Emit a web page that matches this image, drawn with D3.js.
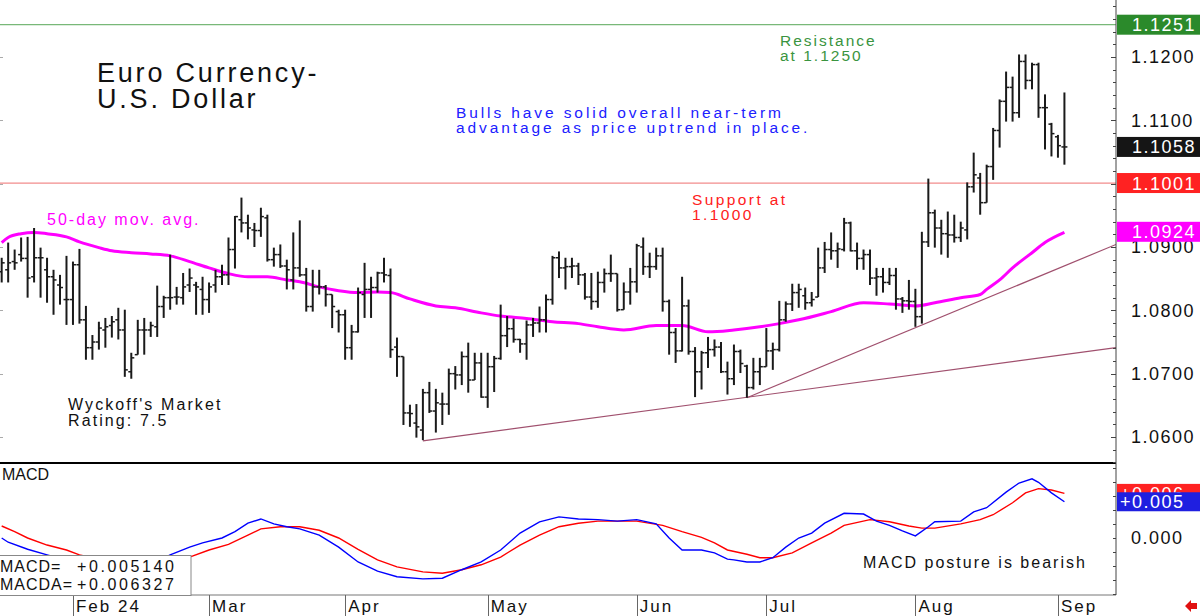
<!DOCTYPE html>
<html>
<head>
<meta charset="utf-8">
<script src="https://d3js.org/d3.v7.min.js"></script>
<style>
body { margin: 0; background: #fff; }
text { font-family: "Liberation Sans", Arial, sans-serif; }
</style>
</head>
<body>
<div id="chart"></div>
<script>
// daily bars, Jan 17 to Sep 3 (weekdays), index = bar number
const opens = [1.0861,1.0864,1.0877,1.0888,1.0882,1.0853,1.0883,1.0864,1.0853,1.0840,1.0817,1.0817,1.0872,1.0785,1.0741,1.0750,1.0769,1.0776,1.0785,1.0769,
1.0703,1.0730,1.0769,1.0769,1.0774,1.0806,1.0820,1.0821,1.0820,1.0840,1.0840,1.0833,1.0817,1.0840,1.0853,1.0856,1.0896,1.0943,1.0938,1.0927,
1.0926,1.0946,1.0880,1.0888,1.0870,1.0848,1.0867,1.0856,1.0806,1.0837,1.0837,1.0825,1.0798,1.0793,1.0741,1.0766,1.0825,1.0833,1.0836,1.0859,
1.0855,1.0742,1.0727,1.0638,1.0622,1.0611,1.0670,1.0641,1.0652,1.0652,1.0700,1.0698,1.0727,1.0690,1.0717,1.0663,1.0711,1.0724,1.0760,1.0771,
1.0754,1.0747,1.0777,1.0780,1.0785,1.0817,1.0883,1.0867,1.0869,1.0870,1.0856,1.0821,1.0814,1.0844,1.0858,1.0858,1.0801,1.0829,1.0845,1.0900,
1.0869,1.0869,1.0886,1.0814,1.0765,1.0736,1.0807,1.0735,1.0703,1.0733,1.0738,1.0742,1.0703,1.0692,1.0735,1.0712,1.0678,1.0703,1.0711,1.0736,
1.0738,1.0785,1.0810,1.0828,1.0823,1.0812,1.0821,1.0867,1.0896,1.0894,1.0896,1.0938,1.0894,1.0882,1.0888,1.0851,1.0853,1.0844,1.0855,1.0818,
1.0815,1.0814,1.0790,1.0908,1.0954,1.0930,1.0921,1.0919,1.0915,1.0927,1.0995,1.1009,1.0970,1.1027,1.1084,1.1130,1.1152,1.1112,1.1193,1.1163,
1.1188,1.1120,1.1094,1.1074,1.1058];
const highs = [1.0883,1.0907,1.0896,1.0915,1.0916,1.0930,1.0899,1.0883,1.0864,1.0856,1.0886,1.0877,1.0897,1.0807,1.0761,1.0782,1.0788,1.0791,1.0804,1.0801,
1.0733,1.0785,1.0788,1.0782,1.0839,1.0823,1.0888,1.0837,1.0859,1.0866,1.0845,1.0853,1.0844,1.0864,1.0872,1.0915,1.0949,1.0978,1.0951,1.0938,
1.0962,1.0951,1.0899,1.0904,1.0880,1.0923,1.0942,1.0867,1.0864,1.0864,1.0840,1.0825,1.0801,1.0801,1.0777,1.0836,1.0875,1.0853,1.0861,1.0883,
1.0866,1.0757,1.0727,1.0651,1.0652,1.0676,1.0687,1.0676,1.0670,1.0708,1.0712,1.0735,1.0749,1.0733,1.0733,1.0733,1.0728,1.0809,1.0791,1.0787,
1.0755,1.0784,1.0788,1.0806,1.0825,1.0886,1.0893,1.0883,1.0883,1.0875,1.0859,1.0859,1.0861,1.0866,1.0888,1.0858,1.0844,1.0867,1.0905,1.0915,
1.0891,1.0899,1.0899,1.0817,1.0772,1.0853,1.0817,1.0742,1.0736,1.0758,1.0754,1.0750,1.0719,1.0746,1.0738,1.0714,1.0725,1.0725,1.0772,1.0749,
1.0815,1.0814,1.0842,1.0842,1.0836,1.0829,1.0899,1.0908,1.0923,1.0907,1.0946,1.0940,1.0907,1.0896,1.0896,1.0867,1.0867,1.0867,1.0867,1.0821,
1.0848,1.0834,1.0924,1.1008,1.0959,1.0943,1.0956,1.0951,1.0940,1.1002,1.1049,1.1017,1.1030,1.1088,1.1133,1.1177,1.1169,1.1204,1.1204,1.1191,
1.1191,1.1141,1.1096,1.1077,1.1144];
const lows = [1.0844,1.0844,1.0864,1.0877,1.0820,1.0844,1.0820,1.0812,1.0793,1.0809,1.0777,1.0777,1.0779,1.0722,1.0722,1.0738,1.0741,1.0757,1.0754,1.0695,
1.0692,1.0730,1.0730,1.0758,1.0758,1.0788,1.0801,1.0809,1.0809,1.0829,1.0793,1.0793,1.0796,1.0828,1.0840,1.0840,1.0866,1.0923,1.0912,1.0900,
1.0916,1.0877,1.0869,1.0867,1.0833,1.0833,1.0853,1.0798,1.0798,1.0825,1.0806,1.0772,1.0765,1.0722,1.0722,1.0765,1.0788,1.0788,1.0828,1.0844,
1.0725,1.0695,1.0619,1.0616,1.0599,1.0595,1.0638,1.0607,1.0619,1.0635,1.0675,1.0682,1.0670,1.0690,1.0662,1.0646,1.0671,1.0722,1.0742,1.0749,
1.0733,1.0722,1.0758,1.0765,1.0765,1.0809,1.0851,1.0833,1.0851,1.0840,1.0817,1.0801,1.0804,1.0828,1.0845,1.0798,1.0801,1.0809,1.0828,1.0856,
1.0851,1.0864,1.0798,1.0730,1.0717,1.0735,1.0730,1.0663,1.0675,1.0709,1.0727,1.0701,1.0667,1.0682,1.0701,1.0662,1.0675,1.0682,1.0711,1.0706,
1.0735,1.0782,1.0799,1.0804,1.0801,1.0806,1.0821,1.0859,1.0880,1.0867,1.0893,1.0893,1.0864,1.0864,1.0840,1.0823,1.0828,1.0840,1.0801,1.0796,
1.0801,1.0774,1.0779,1.0900,1.0899,1.0888,1.0883,1.0907,1.0908,1.0912,1.0986,1.0951,1.0970,1.1006,1.1057,1.1098,1.1098,1.1104,1.1149,1.1149,
1.1104,1.1054,1.1043,1.1041,1.1030];
const closes = [1.0875,1.0875,1.0875,1.0882,1.0851,1.0883,1.0883,1.0853,1.0848,1.0836,1.0817,1.0872,1.0785,1.0741,1.0750,1.0772,1.0774,1.0782,1.0769,1.0706,
1.0725,1.0769,1.0769,1.0776,1.0806,1.0820,1.0820,1.0821,1.0837,1.0851,1.0837,1.0817,1.0837,1.0853,1.0856,1.0896,1.0948,1.0938,1.0930,1.0926,
1.0948,1.0880,1.0888,1.0870,1.0864,1.0867,1.0856,1.0806,1.0837,1.0837,1.0825,1.0806,1.0793,1.0741,1.0766,1.0828,1.0833,1.0836,1.0859,1.0856,
1.0738,1.0727,1.0638,1.0637,1.0616,1.0670,1.0641,1.0654,1.0652,1.0700,1.0698,1.0727,1.0690,1.0717,1.0663,1.0711,1.0724,1.0760,1.0771,1.0754,
1.0747,1.0777,1.0780,1.0785,1.0817,1.0883,1.0867,1.0869,1.0870,1.0856,1.0821,1.0814,1.0844,1.0858,1.0858,1.0801,1.0829,1.0845,1.0902,1.0869,
1.0869,1.0886,1.0814,1.0765,1.0736,1.0807,1.0735,1.0703,1.0733,1.0738,1.0742,1.0703,1.0692,1.0735,1.0716,1.0678,1.0703,1.0711,1.0736,1.0738,
1.0785,1.0810,1.0828,1.0833,1.0812,1.0817,1.0867,1.0896,1.0894,1.0897,1.0938,1.0894,1.0882,1.0888,1.0851,1.0853,1.0844,1.0855,1.0818,1.0815,
1.0814,1.0790,1.0908,1.0954,1.0930,1.0921,1.0919,1.0915,1.0930,1.0995,1.1014,1.0970,1.1027,1.1084,1.1130,1.1152,1.1112,1.1193,1.1163,1.1188,
1.1120,1.1120,1.1079,1.1060,1.1058];

// 50-day moving average, read at selected bars
const maIdx = [0,1,3,5,7,10,12,15,17,20,23,26,29,32,35,38,41,44,46,49,52,55,58,60,63,67,70,74,77,81,85,89,92,96,101,105,109,113,117,120,123,128,133,137,141,144,148,151,152,154,156,159,161,164];
const maVals = [1.0907,1.0915,1.0921,1.0923,1.0921,1.0916,1.0908,1.0899,1.0894,1.0891,1.0889,1.0886,1.0877,1.0867,1.0858,1.0853,1.0853,1.0848,1.0845,1.0837,
1.0831,1.0828,1.0829,1.0828,1.0818,1.0807,1.0804,1.0796,1.0791,1.0787,1.0782,1.0779,1.0774,1.0769,1.0776,1.0776,1.0766,1.0769,1.0774,1.0779,
1.0785,1.0798,1.0812,1.0810,1.0807,1.0812,1.0820,1.0825,1.0833,1.0848,1.0867,1.0891,1.0907,1.0923];

// MACD (blue) and its average (red)
const macdIdx = [0,1,4,7,11,15,19,23,26,29,31,34,36,38,40,42,44,46,49,52,55,58,61,65,68,71,74,77,80,83,86,89,92,95,98,101,103,105,108,110,112,113,115,117,119,121,123,125,127,130,133,135,137,139,141,143,144,148,150,152,155,157,159,160,162,164];
const macdVals = [0.0000,-0.0006,-0.0016,-0.0024,-0.0034,-0.0045,-0.0048,-0.0038,-0.0024,-0.0013,-0.0007,0.0000,0.0009,0.0021,0.0027,0.0020,0.0016,0.0013,0.0004,-0.0013,
-0.0034,-0.0047,-0.0055,-0.0058,-0.0057,-0.0045,-0.0034,-0.0017,0.0007,0.0023,0.0030,0.0027,0.0026,0.0024,0.0026,0.0020,0.0000,-0.0017,-0.0017,-0.0021,
-0.0030,-0.0031,-0.0034,-0.0034,-0.0028,-0.0013,0.0000,0.0007,0.0021,0.0035,0.0034,0.0024,0.0018,0.0010,0.0003,0.0016,0.0023,0.0024,0.0037,0.0043,
0.0065,0.0078,0.0084,0.0079,0.0064,0.00514];
const sigIdx = [0,2,4,7,10,12,17,21,25,29,32,35,38,40,43,46,49,52,55,58,61,65,68,71,74,77,80,83,86,89,92,95,98,102,105,108,110,112,115,117,119,122,125,128,130,134,137,140,142,144,148,151,153,156,158,160,162,164];
const sigVals = [0.0017,0.0009,0.0000,-0.0010,-0.0017,-0.0024,-0.0034,-0.0038,-0.0035,-0.0027,-0.0017,-0.0009,0.0004,0.0013,0.0016,0.0016,0.0011,0.0000,-0.0016,-0.0031,
-0.0041,-0.0048,-0.0050,-0.0045,-0.0038,-0.0027,-0.0010,0.0004,0.0016,0.0021,0.0024,0.0024,0.0024,0.0018,0.0009,0.0001,-0.0007,-0.0017,-0.0023,-0.0028,
-0.0028,-0.0021,-0.0007,0.0007,0.0018,0.0026,0.0023,0.0017,0.0014,0.0014,0.0020,0.0026,0.0033,0.0050,0.0064,0.0070,0.0068,0.006327];

// month labels and the bar where each month starts
const monthLabels = ["Feb 24","Mar","Apr","May","Jun","Jul","Aug","Sep"];
const monthIdx = [11,32,53,75,98,118,141,163];

const priceTicks = [1.06,1.07,1.08,1.09,1.10,1.11,1.12];
const resistance = 1.1251, support = 1.1001, lastClose = 1.1058, lastMa = 1.0924;
const lastMacd = 0.005140, lastMacda = 0.006327;

// trend lines: [start bar, start price, end bar, end price]
const trendA = [65, 1.0594, 171.96, 1.0741];
const trendB = [115, 1.0662, 171.96, 1.0904];

const width = 1200, height = 616;
const plotRight = 1116, priceBottom = 463, macdBottom = 595;

const svg = d3.select("#chart")
  .append("svg")
  .attr("width", width)
  .attr("height", height);

svg.append("rect").attr("width", width).attr("height", height).attr("fill", "#fff");

const x = d3.scaleLinear().domain([-0.26, 171.96]).range([0, plotRight]);
const y = d3.scaleLinear().domain([1.06, 1.12]).range([437, 57]);
const yM = d3.scaleLinear().domain([-0.008, 0.010]).range([594.4, 467.5]);

svg.append("clipPath").attr("id", "pclip")
  .append("rect").attr("x", 0).attr("y", 0).attr("width", plotRight).attr("height", priceBottom);
svg.append("clipPath").attr("id", "mclip")
  .append("rect").attr("x", 0).attr("y", priceBottom).attr("width", plotRight).attr("height", macdBottom - priceBottom);

const price = svg.append("g").attr("clip-path", "url(#pclip)");

// resistance and support lines
price.append("line")
  .attr("x1", 0).attr("x2", plotRight)
  .attr("y1", y(resistance)).attr("y2", y(resistance))
  .attr("stroke", "#78b878").attr("stroke-width", 1.2);
price.append("line")
  .attr("x1", 0).attr("x2", plotRight)
  .attr("y1", y(support)).attr("y2", y(support))
  .attr("stroke", "#f28c8c").attr("stroke-width", 1.2);

// trend lines
[trendA, trendB].forEach(t => {
  price.append("line")
    .attr("x1", x(t[0])).attr("y1", y(t[1]))
    .attr("x2", x(t[2])).attr("y2", y(t[3]))
    .attr("stroke", "#a0506e").attr("stroke-width", 1.2);
});

// moving average
const maLine = d3.line()
  .x(d => x(d[0]))
  .y(d => y(d[1]))
  .curve(d3.curveMonotoneX);
price.append("path")
  .datum(maIdx.map((d, i) => [d, maVals[i]]))
  .attr("d", maLine)
  .attr("fill", "none")
  .attr("stroke", "#ff00ff")
  .attr("stroke-width", 3);

// OHLC bars
const bars = price.append("g").selectAll("g")
  .data(d3.range(opens.length))
  .join("g");
bars.append("line")
  .attr("x1", i => x(i)).attr("x2", i => x(i))
  .attr("y1", i => y(highs[i])).attr("y2", i => y(lows[i]))
  .attr("stroke", "#1a1a1a").attr("stroke-width", 2);
bars.append("line")
  .attr("x1", i => x(i) - 3).attr("x2", i => x(i))
  .attr("y1", i => y(opens[i])).attr("y2", i => y(opens[i]))
  .attr("stroke", "#1a1a1a").attr("stroke-width", 1.5);
bars.append("line")
  .attr("x1", i => x(i)).attr("x2", i => x(i) + 3)
  .attr("y1", i => y(closes[i])).attr("y2", i => y(closes[i]))
  .attr("stroke", "#1a1a1a").attr("stroke-width", 1.5);

// MACD panel
const macd = svg.append("g").attr("clip-path", "url(#mclip)");
const mLine = d3.line().x(d => x(d[0])).y(d => yM(d[1]));
macd.append("path")
  .datum(sigIdx.map((d, i) => [d, sigVals[i]]))
  .attr("d", mLine).attr("fill", "none")
  .attr("stroke", "#ff0000").attr("stroke-width", 1.4);
macd.append("path")
  .datum(macdIdx.map((d, i) => [d, macdVals[i]]))
  .attr("d", mLine).attr("fill", "none")
  .attr("stroke", "#0000ff").attr("stroke-width", 1.4);

// panel frames
svg.append("line").attr("x1", 0).attr("x2", plotRight)
  .attr("y1", priceBottom).attr("y2", priceBottom)
  .attr("stroke", "#000").attr("stroke-width", 2);
svg.append("line").attr("x1", 0).attr("x2", plotRight)
  .attr("y1", macdBottom).attr("y2", macdBottom)
  .attr("stroke", "#777").attr("stroke-width", 1);
svg.append("line").attr("x1", plotRight).attr("x2", plotRight)
  .attr("y1", 0).attr("y2", macdBottom)
  .attr("stroke", "#444").attr("stroke-width", 1);

// price axis (right)
const minorTicks = d3.range(1.056, 1.1281, 0.002);
svg.append("g").selectAll("line")
  .data(minorTicks)
  .join("line")
  .attr("x1", plotRight - 3).attr("x2", plotRight)
  .attr("y1", d => Math.round(y(d)) + 0.5).attr("y2", d => Math.round(y(d)) + 0.5)
  .attr("stroke", "#444");
svg.append("g").selectAll("line")
  .data(priceTicks)
  .join("line")
  .attr("x1", plotRight - 5).attr("x2", plotRight)
  .attr("y1", d => Math.round(y(d)) + 0.5).attr("y2", d => Math.round(y(d)) + 0.5)
  .attr("stroke", "#444");
svg.append("g").selectAll("line")
  .data(priceTicks)
  .join("line")
  .attr("x1", 0).attr("x2", 3)
  .attr("y1", d => Math.round(y(d)) + 0.5).attr("y2", d => Math.round(y(d)) + 0.5)
  .attr("stroke", "#aaa");
svg.append("g").selectAll("text")
  .data(priceTicks)
  .join("text")
  .attr("x", 1131).attr("y", d => y(d))
  .attr("dy", "0.36em")
  .attr("font-size", 18).attr("letter-spacing", 1.5)
  .attr("fill", "#111")
  .text(d => d.toFixed(4));

// MACD axis ticks
svg.append("g").selectAll("line")
  .data(d3.range(-0.008, 0.0101, 0.002))
  .join("line")
  .attr("x1", plotRight - 3).attr("x2", plotRight)
  .attr("y1", d => Math.round(yM(d)) + 0.5).attr("y2", d => Math.round(yM(d)) + 0.5)
  .attr("stroke", "#444");
svg.append("text")
  .attr("x", 1131).attr("y", yM(0)).attr("dy", "0.36em")
  .attr("font-size", 18).attr("letter-spacing", 1.5).attr("fill", "#111")
  .text("0.000");

// value boxes on the axis
function valueBox(cy, fill, label) {
  svg.append("rect")
    .attr("x", plotRight + 1).attr("y", cy - 10)
    .attr("width", width - plotRight - 1).attr("height", 20)
    .attr("fill", fill);
  svg.append("text")
    .attr("x", plotRight + 16).attr("y", cy).attr("dy", "0.36em")
    .attr("font-size", 18).attr("letter-spacing", 1.5).attr("fill", "#fff")
    .text(label);
}
valueBox(y(resistance), "#2b8a2b", resistance.toFixed(4));
valueBox(y(lastClose), "#151515", lastClose.toFixed(4));
valueBox(y(support), "#ff2222", support.toFixed(4));
valueBox(y(lastMa), "#ff00ff", lastMa.toFixed(4));

function macdBox(cy, fill, label) {
  svg.append("rect")
    .attr("x", plotRight + 1).attr("y", cy - 9.5)
    .attr("width", width - plotRight - 1).attr("height", 19)
    .attr("fill", fill);
  svg.append("text")
    .attr("x", plotRight + 4).attr("y", cy).attr("dy", "0.36em")
    .attr("font-size", 18).attr("letter-spacing", 1.5).attr("fill", "#fff")
    .text(label);
}
macdBox(yM(lastMacda), "#ff2222", d3.format("+.3f")(lastMacda));
macdBox(yM(lastMacd), "#1f1fe0", d3.format("+.3f")(lastMacd));

// date axis
const months = svg.append("g").selectAll("g")
  .data(monthIdx)
  .join("g");
months.append("line")
  .attr("x1", d => Math.round(x(d)) + 0.5).attr("x2", d => Math.round(x(d)) + 0.5)
  .attr("y1", macdBottom).attr("y2", height)
  .attr("stroke", "#666");
months.append("text")
  .attr("x", d => x(d) + 3).attr("y", 612)
  .attr("font-size", 17).attr("letter-spacing", 2).attr("fill", "#111")
  .text((d, i) => monthLabels[i]);

// small red arrow, bottom right
svg.append("path")
  .attr("d", "M1185,606 L1191,600 L1191,603 L1197,603 L1197,609 L1191,609 L1191,612 Z")
  .attr("fill", "#e01010");

// annotations
function note(xp, yp, lines, size, color, spacing) {
  const t = svg.append("text")
    .attr("x", xp).attr("y", yp)
    .attr("font-size", size).attr("letter-spacing", spacing).attr("fill", color);
  lines.forEach((s, i) => {
    t.append("tspan").attr("x", xp).attr("dy", i === 0 ? 0 : size * 0.98).text(s);
  });
}
note(97, 82, ["Euro Currency-"], 27, "#111", 2.8);
note(97, 108, ["U.S. Dollar"], 27, "#111", 2.8);
note(780, 46, ["Resistance", "at 1.1250"], 15.5, "#3a9440", 2);
note(456, 118, ["Bulls have solid overall near-term", "advantage as price uptrend in place."], 15.5, "#2020ff", 2.9);
note(692, 205, ["Support at", "1.1000"], 15.5, "#ff2020", 2.4);
note(47, 225, ["50-day mov. avg."], 16, "#ff00ff", 2);
note(68, 410, ["Wyckoff's Market", "Rating: 7.5"], 16, "#111", 2.1);
note(863, 568, ["MACD posture is bearish"], 16, "#111", 2.0);
note(2, 480, ["MACD"], 16, "#111", 0);

// MACD readout box
svg.append("rect")
  .attr("x", -1).attr("y", 555.5).attr("width", 192).attr("height", 40)
  .attr("fill", "#fff").attr("stroke", "#888");
note(0, 572, ["MACD="], 16, "#111", 1);
note(0, 590, ["MACDA="], 16, "#111", 1);
note(77, 572, [d3.format("+.6f")(lastMacd)], 16, "#111", 2.6);
note(77, 590, [d3.format("+.6f")(lastMacda)], 16, "#111", 2.6);
</script>
</body>
</html>
